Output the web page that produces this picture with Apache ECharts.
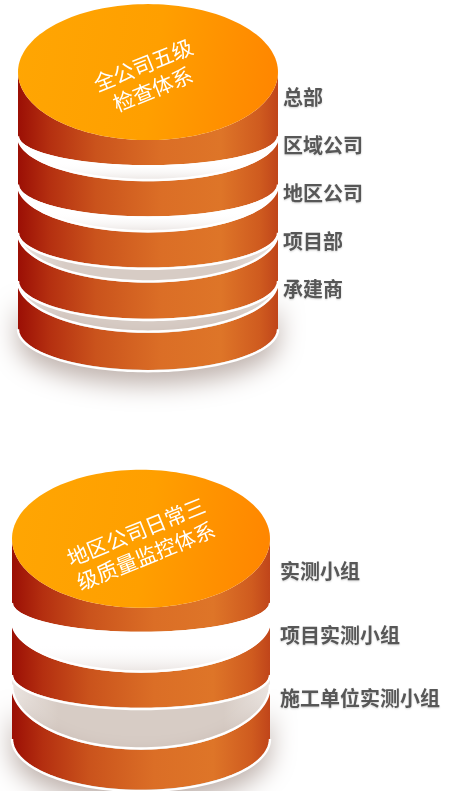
<!DOCTYPE html>
<html>
<head>
<meta charset="utf-8">
<script src="https://cdn.jsdelivr.net/npm/echarts@6/dist/echarts.min.js"></script>
<style>
  html, body { margin: 0; padding: 0; background: #ffffff; }
  #chart { width: 450px; height: 791px; }
</style>
</head>
<body>
<div id="chart"></div>
<script>
// Upper stack: company-wide five-level inspection system
const upperTitle = '全公司五级\n检查体系';
const upperLevels = ['总部', '区域公司', '地区公司', '项目部', '承建商'];

// Lower stack: regional company daily three-level quality monitoring
const lowerTitle = '地区公司日常三\n级质量监控体系';
const lowerLevels = ['实测小组', '项目实测小组', '施工单位实测小组'];

// Drawing parameters of each disc stack (offsets are relative to the
// category centre of the level on the y axis; depth = half height of the arc)
const upperLook = {
  face: { dy: -25, ry: 68 },
  top: [null, [-8, 44], [-8, 47], [-8, 49], [-8, 51]],
  bottom: [[38, 30], [38, 33], [38, 36], [38, 39], [38, 42]],
  shaded: [false, false, false, true, true]
};
const lowerLook = {
  face: { dy: -33, ry: 69 },
  top: [null, [-13.5, 51], [-13, 64]],
  bottom: [[30, 30], [38.5, 34], [39, 52]],
  shaded: [false, false, true]
};

const FONT = '"Noto Sans CJK SC", "Noto Sans", sans-serif';

// lower half of an ellipse, left to right
function halfArc(cx, cy, rx, ry, n) {
  const pts = [];
  for (let k = 0; k <= n; k++) {
    const t = Math.PI * k / n;
    pts.push([cx - rx * Math.cos(t), cy + ry * Math.sin(t)]);
  }
  return pts;
}
function fullEllipse(cx, cy, rx, ry, n) {
  const pts = [];
  for (let k = 0; k < n; k++) {
    const t = 2 * Math.PI * k / n;
    pts.push([cx + rx * Math.cos(t), cy + ry * Math.sin(t)]);
  }
  return pts;
}

function sideFill() {
  return new echarts.graphic.LinearGradient(0, 0, 1, 0, [
    { offset: 0, color: '#9b0f05' },
    { offset: 0.12, color: '#b42f10' },
    { offset: 0.3, color: '#ca531c' },
    { offset: 0.55, color: '#db6e26' },
    { offset: 0.78, color: '#de7528' },
    { offset: 0.93, color: '#cf5b1f' },
    { offset: 1, color: '#c0451a' }
  ]);
}
function faceFill() {
  return new echarts.graphic.LinearGradient(0, 0, 1, 0.3, [
    { offset: 0, color: '#ffa603' },
    { offset: 0.55, color: '#ff9f00' },
    { offset: 1, color: '#ff8700' }
  ]);
}

function makeRenderer(look, title, count) {
  return function (params, api) {
    const i = api.value(1);
    const cs = params.coordSys;
    const cx = cs.x + cs.width / 2;
    const rx = cs.width / 2;
    const ly = api.coord([0.5, i])[1];
    const N = 80;
    const children = [];

    // upper rim of this disc
    let topY, topRy;
    if (i === 0) {
      topY = ly + look.face.dy;
      topRy = look.face.ry;
    } else {
      topY = ly + look.top[i][0];
      topRy = look.top[i][1];
    }
    const botY = ly + look.bottom[i][0];
    const botRy = look.bottom[i][1];

    const topArc = halfArc(cx, topY, rx, topRy, N);
    const botArc = halfArc(cx, botY, rx, botRy, N);

    // visible part of the disc's top surface, below the disc above it
    if (i > 0) {
      const prevLy = api.coord([0.5, i - 1])[1];
      const prevArc = halfArc(cx, prevLy + look.bottom[i - 1][0], rx, look.bottom[i - 1][1], N);
      const gap = prevArc.concat(topArc.slice().reverse());
      children.push({
        type: 'polygon',
        shape: { points: gap },
        style: {
          fill: look.shaded[i]
            ? new echarts.graphic.LinearGradient(0, 0, 1, 0, [
                { offset: 0, color: '#ebe5e1' },
                { offset: 0.18, color: '#d7ccc5' },
                { offset: 0.82, color: '#d7ccc5' },
                { offset: 1, color: '#ebe5e1' }
              ])
            : new echarts.graphic.LinearGradient(0, 0, 0, 1, [
                { offset: 0, color: 'rgba(255,255,255,0)' },
                { offset: 0.6, color: 'rgba(255,255,255,0)' },
                { offset: 1, color: 'rgba(205,192,186,0.45)' }
              ])
        }
      });
    }

    // side wall
    const side = topArc.concat(botArc.slice().reverse());
    const isLast = i === count - 1;
    children.push({
      type: 'polygon',
      shape: { points: side },
      style: {
        fill: sideFill(),
        shadowBlur: isLast ? 26 : 0,
        shadowOffsetY: isLast ? 14 : 0,
        shadowColor: isLast ? 'rgba(80,45,30,0.38)' : 'transparent'
      }
    });

    // thin white rims
    children.push({
      type: 'polyline',
      shape: { points: halfArc(cx, botY + 1.3, rx, botRy, N) },
      style: { stroke: '#ffffff', lineWidth: 2.4, fill: null }
    });
    if (i > 0) {
      children.push({
        type: 'polyline',
        shape: { points: halfArc(cx, topY - 1.3, rx, topRy, N) },
        style: { stroke: '#ffffff', lineWidth: 2.4, fill: null }
      });
    }

    // top face with the heading
    if (i === 0) {
      const fy = ly + look.face.dy;
      children.push({
        type: 'polygon',
        shape: { points: fullEllipse(cx, fy, rx, look.face.ry, 160) },
        style: { fill: faceFill() }
      });
      children.push({
        type: 'text',
        x: cx,
        y: fy + 5,
        rotation: 22 * Math.PI / 180,
        style: {
          text: title,
          fill: '#ffffff',
          font: '21px ' + FONT,
          align: 'center',
          verticalAlign: 'middle',
          lineHeight: 26
        }
      });
    }
    return { type: 'group', children: children };
  };
}

function stackSeries(levels, look, title, axisIndex) {
  // drawn bottom-up so upper discs sit over the shadows of lower ones
  const data = levels.map((name, i) => [0.5, i]).reverse();
  return {
    type: 'custom',
    coordinateSystem: 'cartesian2d',
    xAxisIndex: axisIndex,
    yAxisIndex: axisIndex,
    renderItem: makeRenderer(look, title, levels.length),
    data: data,
    silent: true,
    animation: false
  };
}

function levelAxis(levels, gridIndex, margin) {
  return {
    type: 'category',
    gridIndex: gridIndex,
    data: levels,
    inverse: true,
    position: 'right',
    axisLine: { show: false },
    axisTick: { show: false },
    splitLine: { show: false },
    axisLabel: {
      margin: margin,
      fontSize: 20,
      fontWeight: 'bold',
      color: '#575757',
      fontFamily: FONT,
      textShadowColor: 'rgba(0,0,0,0.18)',
      textShadowBlur: 2,
      textShadowOffsetY: 1
    }
  };
}

const chart = echarts.init(document.getElementById('chart'), null, { renderer: 'canvas' });
chart.setOption({
  backgroundColor: '#ffffff',
  animation: false,
  grid: [
    { left: 18, top: 73, width: 260, height: 241 },
    { left: 12, top: 540, width: 258, height: 190.5 }
  ],
  xAxis: [
    { type: 'value', gridIndex: 0, min: 0, max: 1, show: false },
    { type: 'value', gridIndex: 1, min: 0, max: 1, show: false }
  ],
  yAxis: [
    levelAxis(upperLevels, 0, 5),
    levelAxis(lowerLevels, 1, 10)
  ],
  series: [
    stackSeries(upperLevels, upperLook, upperTitle, 0),
    stackSeries(lowerLevels, lowerLook, lowerTitle, 1)
  ]
});
</script>
</body>
</html>
